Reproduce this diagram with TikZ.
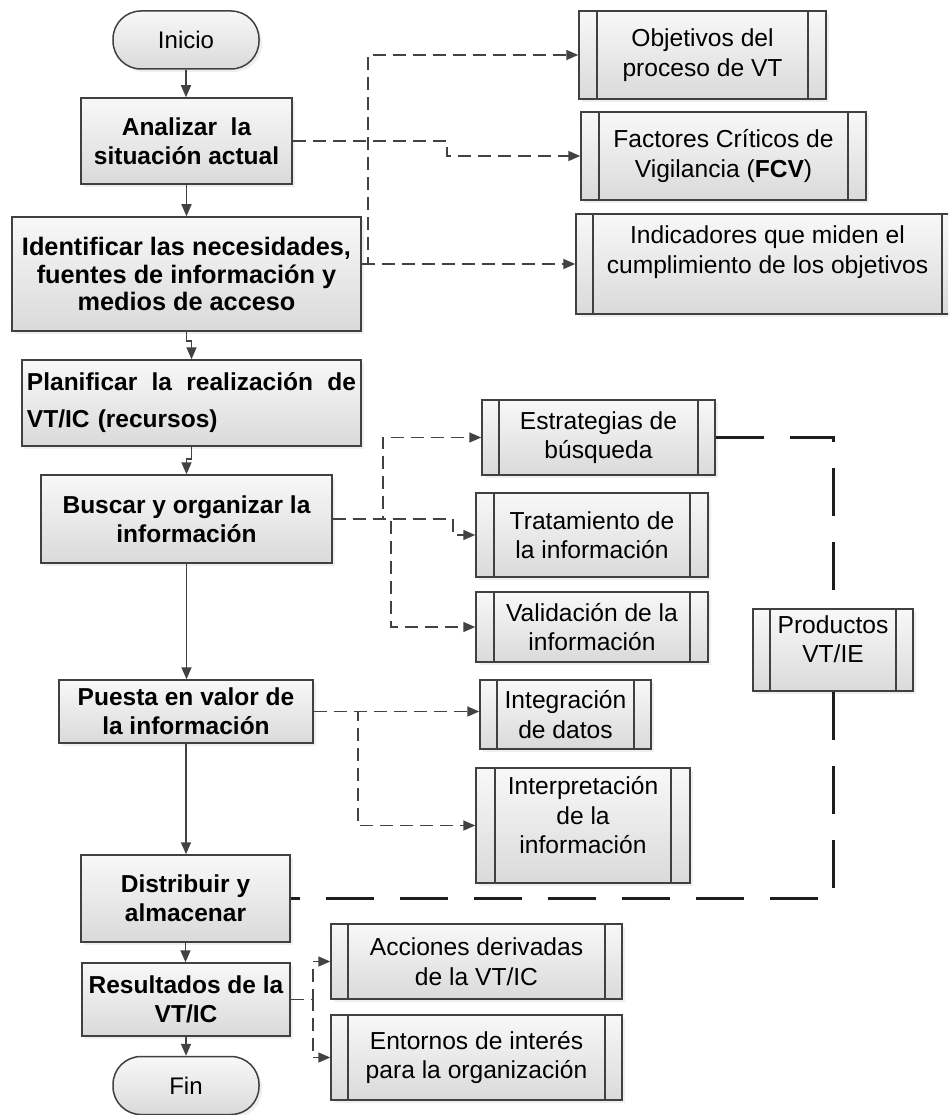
\documentclass[tikz,border=0pt]{standalone}
\usepackage{fontspec}
\setmainfont{Liberation Sans}
\usetikzlibrary{arrows.meta,calc,shadows}

\definecolor{boxline}{HTML}{404040}
\definecolor{flowclr}{HTML}{424242}
\definecolor{boxtop}{HTML}{F8F8F8}
\definecolor{boxbot}{HTML}{DADADA}
\definecolor{prodline}{HTML}{1E1E1E}

\begin{document}
\begin{tikzpicture}[x=1pt,y=-1pt,
  base/.style={draw=boxline, line width=1.5pt, top color=boxtop, bottom color=boxbot,
    inner sep=0pt, drop shadow={opacity=0.12, shadow xshift=3pt, shadow yshift=-3pt}},
  stepbox/.style={base, rectangle, align=center, font=\fontsize{24.5}{29}\selectfont\bfseries},
  term/.style={base, rectangle, rounded corners=28pt, minimum width=146pt, minimum height=58pt,
    font=\fontsize{24}{29}\selectfont},
  subbox/.style={base, rectangle, align=center, font=\fontsize{24.6}{29.5}\selectfont,
    path picture={\draw[boxline, line width=1.3pt]
      ([xshift=#1]path picture bounding box.north west) -- ([xshift=#1]path picture bounding box.south west)
      ([xshift=-#1]path picture bounding box.north east) -- ([xshift=-#1]path picture bounding box.south east);}},
  subbox/.default=18pt,
  lbl/.style={font=\fontsize{24.6}{29.5}\selectfont, align=center, inner sep=0pt},
  flow/.style={draw=flowclr, line width=1.6pt, -{Triangle[length=12pt,width=10pt]}},
  dflow/.style={flow, dash pattern=on 13pt off 7pt},
  ldash/.style={draw=prodline, line width=3pt, dash pattern=on 48pt off 26pt}
]
\useasboundingbox (0,0) rectangle (948,1115);
\clip (0,0) rectangle (948,1115);
\fill[white] (0,0) rectangle (948,1115);

% main process column
\node[term] (inicio) at (186,40) {Inicio};
\node[stepbox, minimum width=211pt, minimum height=86pt] (analizar) at (186.5,141)
  {Analizar\ \ la\\situación actual};
\node[stepbox, minimum width=349pt, minimum height=114pt,
  font=\fontsize{25.3}{27.5}\selectfont\bfseries] (identificar) at (186.5,274)
  {Identificar las necesidades,\\fuentes de información y\\medios de acceso};
\node[stepbox, minimum width=339pt, minimum height=86pt, text width=329pt, align=left,
  font=\fontsize{24.5}{37}\selectfont\bfseries] (planificar) at (191.5,403)
  {\makebox[329pt][l]{Planificar\hfill la\hfill realización\hfill de}\\VT/IC (recursos)};
\node[stepbox, minimum width=291pt, minimum height=88pt] (buscar) at (186.5,519)
  {Buscar y organizar la\\información};
\node[stepbox, minimum width=254pt, minimum height=63pt] (puesta) at (186,711.5)
  {Puesta en valor de\\la información};
\node[stepbox, minimum width=209pt, minimum height=87pt] (distribuir) at (185.5,898.5)
  {Distribuir y\\almacenar};
\node[stepbox, minimum width=208pt, minimum height=73pt] (resultados) at (186,999.5)
  {Resultados de la\\VT/IC};
\node[term] (fin) at (186,1085.5) {Fin};

% sub-processes
\node[subbox, minimum width=247pt, minimum height=88pt] (objetivos) at (702.5,55)
  {Objetivos del\\proceso de VT};
\node[subbox, minimum width=285pt, minimum height=88pt] (factores) at (723.5,156)
  {Factores Críticos de\\Vigilancia (\textbf{FCV})};
\node[subbox=17pt, minimum width=383pt, minimum height=100pt,
  label={[lbl, yshift=12pt]center:Indicadores que miden el\\cumplimiento de los objetivos}]
  (indicadores) at (767.5,264) {};
\node[subbox=17pt, minimum width=233pt, minimum height=75pt] (estrategias) at (598.5,437.5)
  {Estrategias de\\búsqueda};
\node[subbox, minimum width=232pt, minimum height=84pt] (tratamiento) at (592,535)
  {Tratamiento de\\la información};
\node[subbox, minimum width=232pt, minimum height=70pt] (validacion) at (592,627)
  {Validación de la\\información};
\node[subbox=17pt, minimum width=171pt, minimum height=69pt] (integracion) at (565.5,714.5)
  {Integración\\de datos};
\node[subbox=19pt, minimum width=214pt, minimum height=115pt,
  label={[lbl, yshift=10pt]center:Interpretación\\de la\\información}]
  (interpretacion) at (583,825.5) {};
\node[subbox=17pt, minimum width=160pt, minimum height=82pt,
  label={[lbl, yshift=11pt]center:Productos\\VT/IE}]
  (productos) at (833,650) {};
\node[subbox=17pt, minimum width=291pt, minimum height=75pt] (acciones) at (476.5,961.5)
  {Acciones derivadas\\de la VT/IC};
\node[subbox=17pt, minimum width=291pt, minimum height=85pt] (entornos) at (476.5,1057.5)
  {Entornos de interés\\para la organización};

% main flow
\draw[flow] (inicio.south) -- (inicio.south |- analizar.north);
\draw[flow] (analizar.south) -- (analizar.south |- identificar.north);
\draw[flow] (identificar.south) -- ++(0,9) -| (planificar.north);
\draw[flow] (planificar.south) -- ++(0,12) -| (buscar.north);
\draw[flow] (buscar.south) -- (buscar.south |- puesta.north);
\draw[flow] (puesta.south) -- (puesta.south |- distribuir.north);
\draw[flow] (distribuir.south) -- (distribuir.south |- resultados.north);
\draw[flow] (resultados.south) -- (resultados.south |- fin.north);

% dashed links to sub-processes
\draw[dflow] (analizar.east) -- ++(154,0) |- (factores.west);
\draw[dflow] ([yshift=10pt]identificar.east) -- (indicadores.west);
\draw[dflow] ([yshift=10pt]identificar.east) -- ++(6,0) |- (objetivos.west);
\draw[dflow] (buscar.east) -- ++(50,0) |- (estrategias.west);
\draw[dflow] (buscar.east) -- ++(120,0) |- (tratamiento.west);
\draw[dflow] (buscar.east) -- ++(58,0) |- (validacion.west);
\draw[dflow] (puesta.east) -- (puesta.east -| integracion.west);
\draw[dflow] (puesta.east) -- ++(44,0) |- (interpretacion.west);
\draw[dflow] (resultados.east) -- ++(22,0) |- (acciones.west);
\draw[dflow] (resultados.east) -- ++(22,0) |- (entornos.west);

% products loop
\draw[ldash] (estrategias.east) -| (productos.north);
\draw[ldash] (productos.south) |- (distribuir.east);
\end{tikzpicture}
\end{document}
